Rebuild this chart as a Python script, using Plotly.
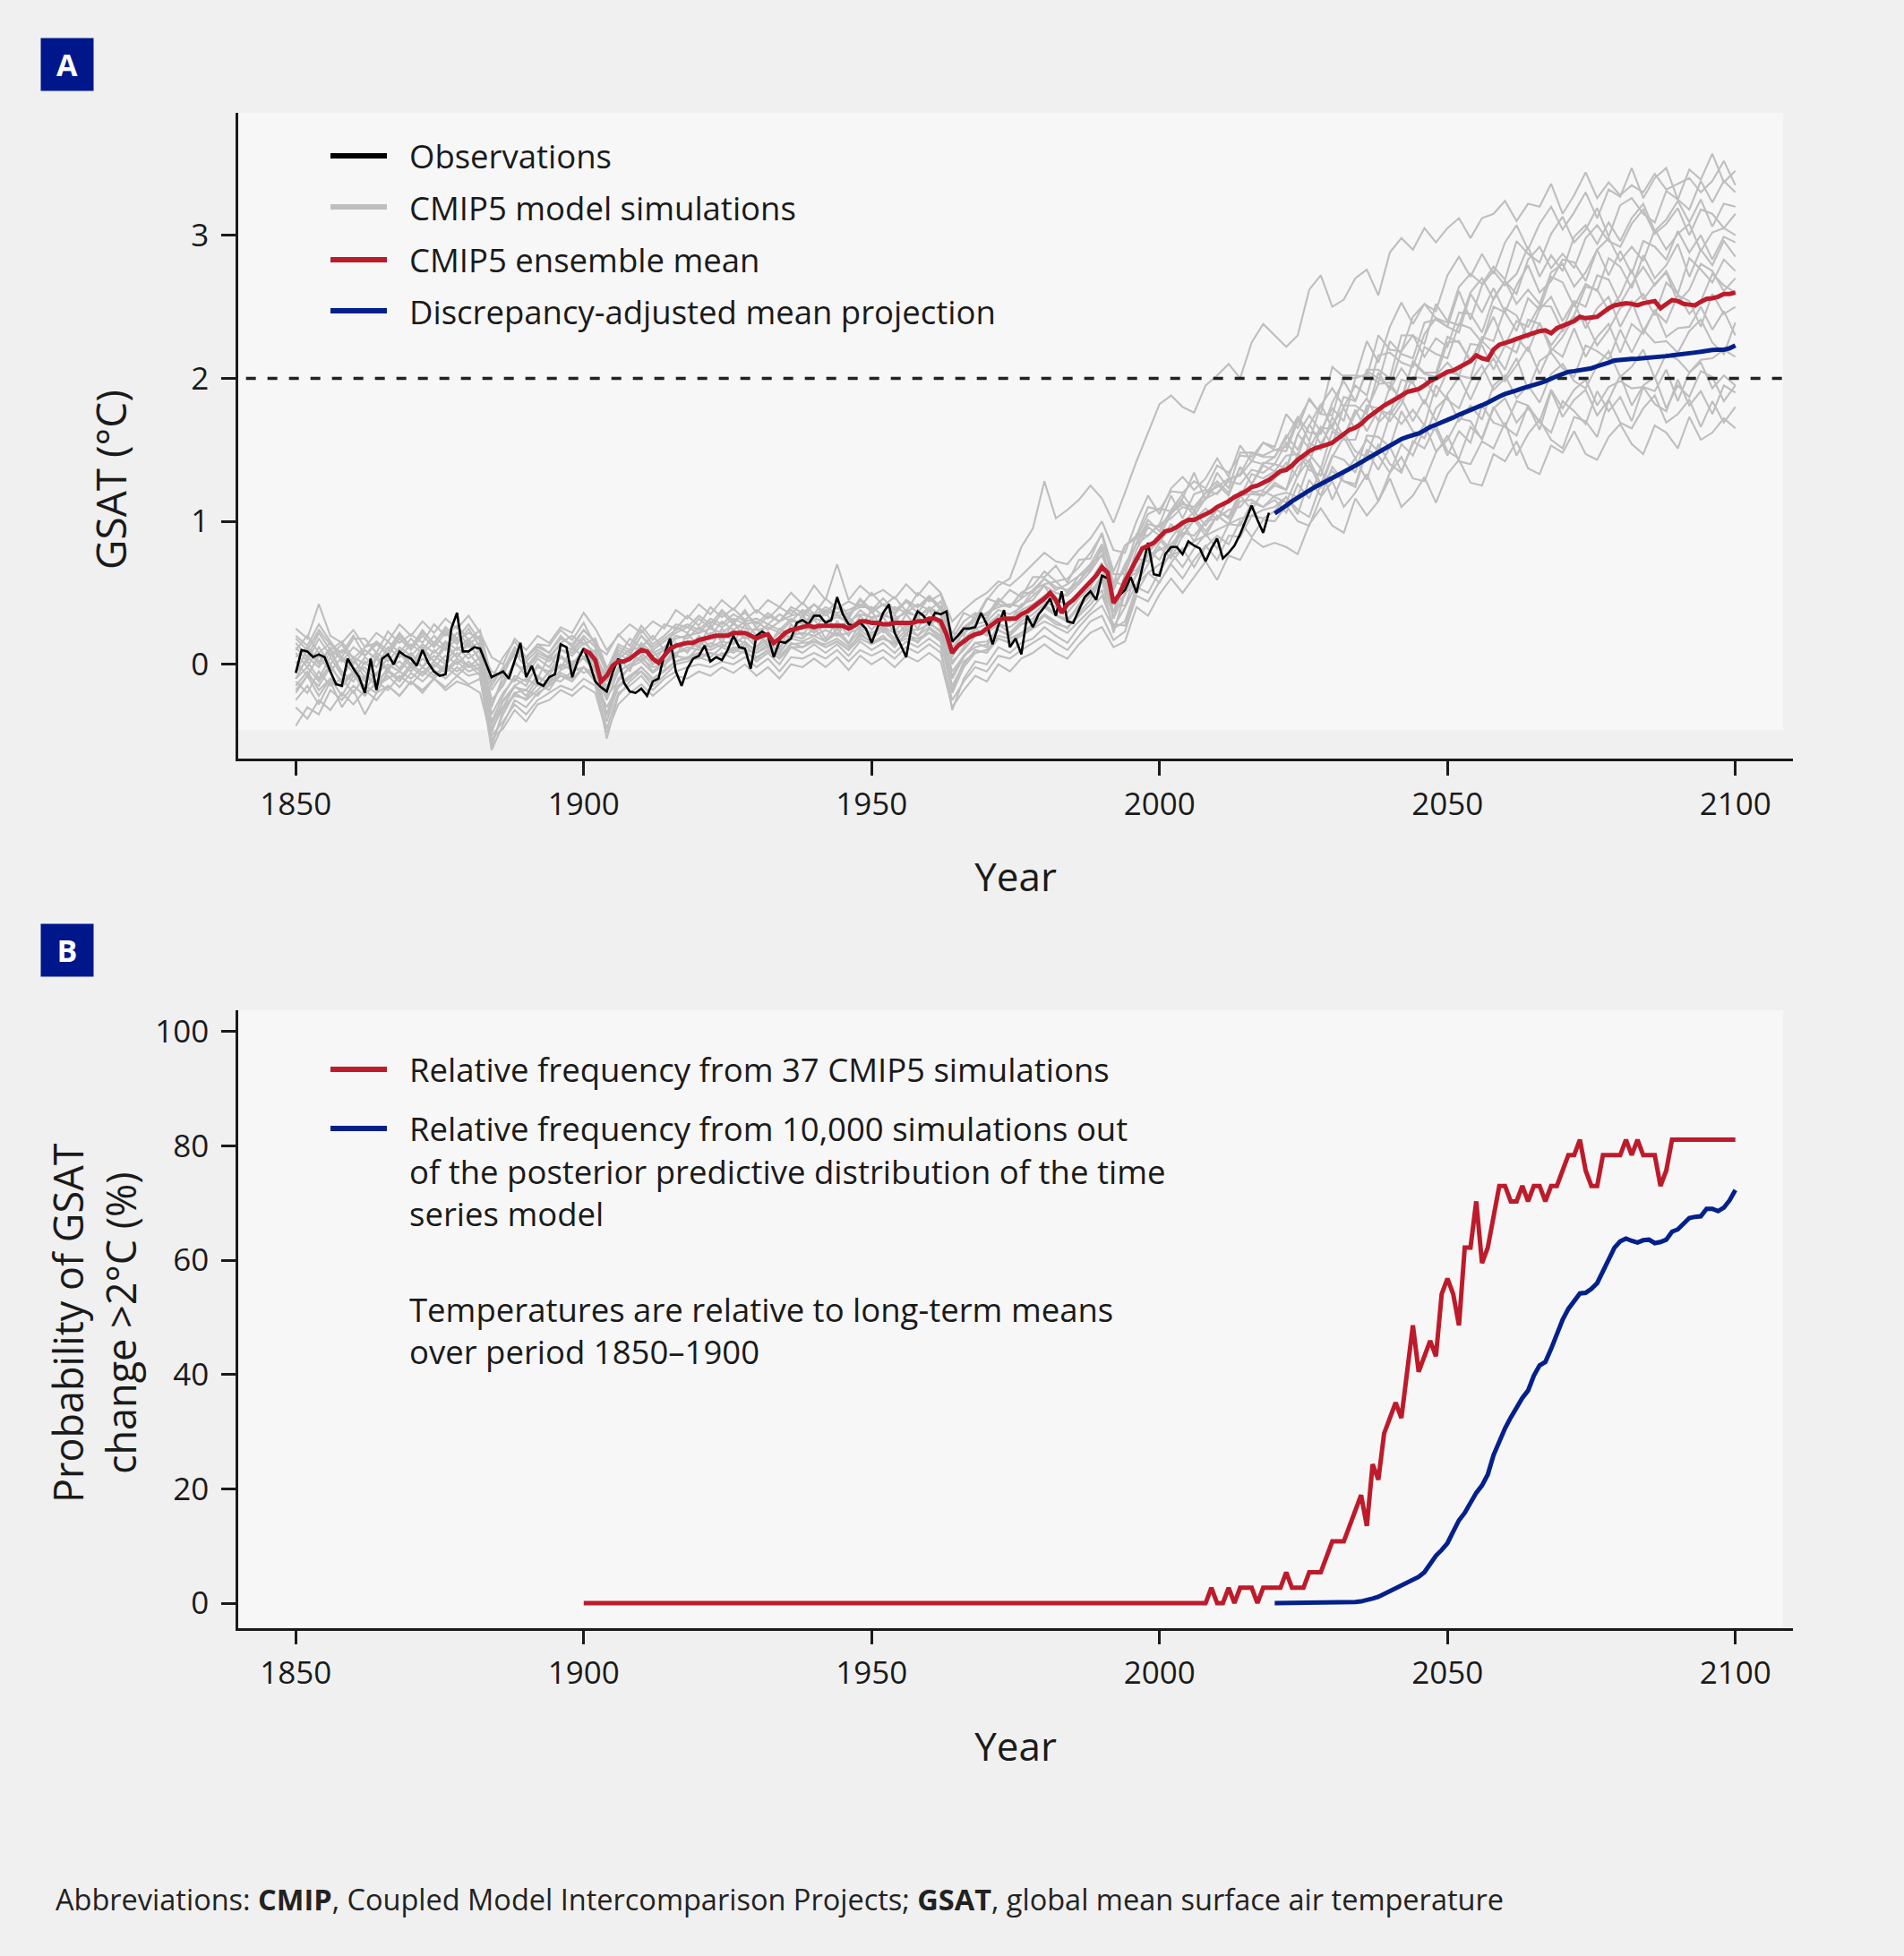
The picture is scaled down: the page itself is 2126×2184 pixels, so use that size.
import plotly.graph_objects as go

# ---------------- data ----------------
YEARS_OBS = list(range(1850, 2020))
OBS = [
    -0.06, 0.10, 0.09, 0.05, 0.07, 0.05, -0.05, -0.14, -0.15, 0.04,
    -0.03, -0.09, -0.20, 0.04, -0.18, 0.04, 0.07, 0.00, 0.09, 0.06,
    0.04, -0.01, 0.10, 0.01, -0.05, -0.08, -0.07, 0.25, 0.36, 0.09,
    0.09, 0.12, 0.11, 0.01, -0.09, -0.07, -0.05, -0.10, 0.03, 0.15,
    -0.09, -0.01, -0.13, -0.15, -0.09, -0.07, 0.14, 0.12, -0.09, 0.03,
    0.11, 0.01, -0.12, -0.16, -0.19, -0.06, 0.04, -0.13, -0.19, -0.20,
    -0.17, -0.22, -0.12, -0.10, 0.07, 0.18, -0.05, -0.15, -0.03, 0.04,
    0.06, 0.13, 0.02, 0.05, 0.03, 0.10, 0.20, 0.12, 0.11, -0.03,
    0.20, 0.23, 0.20, 0.05, 0.16, 0.15, 0.18, 0.29, 0.31, 0.28,
    0.34, 0.34, 0.29, 0.31, 0.47, 0.35, 0.28, 0.27, 0.29, 0.25,
    0.15, 0.26, 0.36, 0.42, 0.22, 0.14, 0.05, 0.28, 0.37, 0.34,
    0.28, 0.36, 0.35, 0.37, 0.16, 0.20, 0.25, 0.25, 0.26, 0.36,
    0.28, 0.14, 0.27, 0.38, 0.12, 0.18, 0.07, 0.34, 0.26, 0.35,
    0.40, 0.46, 0.34, 0.51, 0.30, 0.29, 0.38, 0.47, 0.51, 0.45,
    0.62, 0.60, 0.45, 0.48, 0.52, 0.61, 0.50, 0.67, 0.85, 0.63,
    0.62, 0.77, 0.82, 0.82, 0.77, 0.86, 0.83, 0.81, 0.72, 0.81,
    0.88, 0.74, 0.78, 0.83, 0.91, 1.01, 1.11, 1.01, 0.92, 1.06,
]

YEARS_MEAN = list(range(1900, 2101))
ENS_MEAN = [
    0.10, 0.08, 0.03, -0.12, -0.08, -0.01, 0.02, 0.02, 0.04, 0.07,
    0.10, 0.09, 0.04, 0.01, 0.06, 0.11, 0.13, 0.14, 0.15, 0.15,
    0.17, 0.18, 0.19, 0.20, 0.20, 0.20, 0.22, 0.22, 0.22, 0.20,
    0.18, 0.20, 0.21, 0.15, 0.18, 0.22, 0.24, 0.25, 0.26, 0.27,
    0.26, 0.27, 0.27, 0.27, 0.27, 0.27, 0.25, 0.27, 0.30, 0.30,
    0.29, 0.29, 0.28, 0.28, 0.29, 0.29, 0.29, 0.29, 0.30, 0.30,
    0.32, 0.32, 0.30, 0.21, 0.08, 0.13, 0.16, 0.19, 0.21, 0.22,
    0.25, 0.28, 0.31, 0.32, 0.32, 0.32, 0.35, 0.37, 0.40, 0.43,
    0.46, 0.50, 0.45, 0.36, 0.42, 0.45, 0.49, 0.54, 0.58, 0.62,
    0.68, 0.64, 0.43, 0.49, 0.58, 0.66, 0.73, 0.81, 0.83, 0.85,
    0.89, 0.93, 0.94, 0.96, 0.99, 1.01, 1.01, 1.03, 1.05, 1.07,
    1.10, 1.12, 1.14, 1.17, 1.19, 1.21, 1.24, 1.25, 1.27, 1.29,
    1.32, 1.35, 1.36, 1.39, 1.43, 1.46, 1.49, 1.51, 1.52, 1.535,
    1.55, 1.58, 1.61, 1.64, 1.655, 1.68, 1.72, 1.755, 1.78, 1.81,
    1.83, 1.855, 1.88, 1.905, 1.915, 1.925, 1.95, 1.98, 2.00, 2.02,
    2.045, 2.055, 2.075, 2.095, 2.12, 2.16, 2.14, 2.13, 2.20, 2.235,
    2.245, 2.26, 2.275, 2.29, 2.30, 2.315, 2.33, 2.335, 2.315, 2.35,
    2.365, 2.38, 2.40, 2.43, 2.42, 2.425, 2.43, 2.46, 2.49, 2.51,
    2.52, 2.525, 2.52, 2.51, 2.525, 2.53, 2.54, 2.49, 2.52, 2.547,
    2.54, 2.52, 2.515, 2.51, 2.535, 2.555, 2.56, 2.57, 2.59, 2.59,
    2.60,
]

YEARS_ADJ = list(range(2020, 2101))
ADJ_MEAN = [
    1.055, 1.08, 1.11, 1.14, 1.165, 1.19, 1.22, 1.24, 1.26, 1.28,
    1.30, 1.32, 1.345, 1.367, 1.39, 1.413, 1.44, 1.46, 1.485, 1.51,
    1.535, 1.56, 1.575, 1.59, 1.60, 1.615, 1.635, 1.66, 1.675, 1.69,
    1.705, 1.726, 1.745, 1.76, 1.78, 1.795, 1.812, 1.83, 1.855, 1.872,
    1.89, 1.90, 1.915, 1.93, 1.94, 1.953, 1.965, 1.98, 2.00, 2.015,
    2.03, 2.045, 2.05, 2.055, 2.06, 2.07, 2.085, 2.095, 2.11, 2.125,
    2.13, 2.132, 2.135, 2.137, 2.14, 2.14, 2.145, 2.148, 2.155, 2.16,
    2.167, 2.172, 2.177, 2.18, 2.185, 2.195, 2.198, 2.20, 2.20, 2.21,
    2.23,
]

# CMIP5 model simulations (every second year, 1850-2100)
YEARS_SIM = list(range(1850, 2101, 2))
SIM_01 = [
    0.20, 0.13, 0.28, 0.16, 0.05, 0.18, 0.18, 0.08, 0.23, 0.15,
    0.21, 0.15, 0.28, 0.20, 0.27, 0.17, 0.24, -0.10, 0.05, 0.16,
    0.05, 0.14, 0.13, 0.24, 0.17, 0.29, 0.13, 0.07, 0.21, 0.13,
    0.27, 0.17, 0.28, 0.25, 0.34, 0.27, 0.40, 0.33, 0.39, 0.31,
    0.38, 0.32, 0.40, 0.35, 0.43, 0.35, 0.46, 0.39, 0.44, 0.40,
    0.50, 0.41, 0.47, 0.37, 0.50, 0.44, 0.49, 0.21, 0.36, 0.32,
    0.46, 0.43, 0.52, 0.47, 0.61, 0.61, 0.69, 0.57, 0.73, 0.74,
    0.92, 0.65, 0.83, 0.90, 1.10, 1.08, 1.21, 1.20, 1.28, 1.23,
    1.39, 1.34, 1.46, 1.45, 1.55, 1.52, 1.75, 1.65, 1.86, 1.75,
    2.08, 2.01, 2.00, 2.26, 2.11, 2.36, 2.53, 2.38, 2.52, 2.47,
    2.72, 2.85, 2.71, 2.87, 2.73, 2.95, 3.07, 2.90, 3.08, 3.20,
    3.04, 3.16, 3.30, 3.12, 3.32, 3.27, 3.47, 3.26, 3.40, 3.47,
    3.25, 3.46, 3.39, 3.57, 3.37, 3.45,
]
SIM_02 = [
    -0.05, 0.10, 0.00, 0.12, -0.08, 0.05, -0.10, 0.06, -0.04, 0.10,
    0.00, 0.12, 0.02, 0.15, 0.05, 0.16, 0.02, -0.30, -0.08, -0.12,
    0.02, -0.10, 0.06, -0.03, 0.12, 0.05, 0.10, -0.18, 0.06, -0.05,
    0.15, 0.00, 0.12, 0.05, 0.22, 0.12, 0.28, 0.15, 0.30, 0.18,
    0.26, 0.12, 0.25, 0.18, 0.35, 0.22, 0.38, 0.20, 0.33, 0.25,
    0.38, 0.22, 0.35, 0.20, 0.38, 0.28, 0.40, 0.05, 0.25, 0.30,
    0.45, 0.55, 0.60, 0.82, 0.95, 1.28, 1.02, 1.08, 1.15, 1.25,
    1.16, 0.99, 1.20, 1.42, 1.62, 1.82, 1.88, 1.80, 1.76, 1.95,
    2.02, 2.10, 2.00, 2.25, 2.38, 2.30, 2.22, 2.30, 2.62, 2.72,
    2.50, 2.55, 2.70, 2.76, 2.58, 2.88, 2.98, 2.90, 3.05, 2.95,
    3.05, 3.12, 2.98, 3.12, 3.15, 3.24, 3.10, 3.22, 3.20, 3.36,
    3.15, 3.28, 3.44, 3.26, 3.37, 3.28, 3.35, 3.30, 3.43, 3.32,
    3.36, 3.40, 3.30, 3.38, 3.52, 3.35,
]
SIM_03 = [
    0.15, 0.05, 0.22, 0.10, 0.16, 0.04, 0.12, 0.15, 0.06, 0.18,
    0.10, 0.20, 0.12, 0.22, 0.14, 0.25, 0.12, -0.05, -0.08, 0.10,
    0.02, 0.10, 0.05, 0.15, 0.20, 0.14, 0.18, -0.02, 0.05, 0.18,
    0.12, 0.20, 0.10, 0.26, 0.22, 0.32, 0.25, 0.36, 0.28, 0.38,
    0.25, 0.34, 0.30, 0.38, 0.33, 0.42, 0.34, 0.40, 0.32, 0.45,
    0.36, 0.42, 0.35, 0.44, 0.36, 0.47, 0.38, 0.22, 0.20, 0.35,
    0.32, 0.45, 0.40, 0.50, 0.55, 0.65, 0.58, 0.60, 0.68, 0.78,
    0.91, 0.56, 0.83, 0.88, 1.05, 1.09, 1.07, 1.16, 1.34, 1.15,
    1.34, 1.23, 1.48, 1.48, 1.46, 1.50, 1.49, 1.70, 1.85, 1.75,
    1.74, 2.02, 2.02, 2.01, 2.30, 2.20, 2.19, 2.43, 2.52, 2.42,
    2.39, 2.64, 2.73, 2.66, 2.78, 2.69, 2.96, 2.87, 2.81, 3.01,
    3.13, 2.95, 3.04, 3.19, 2.99, 3.21, 3.26, 3.15, 3.09, 3.31,
    3.25, 3.18, 3.38, 3.23, 3.38, 3.30,
]
SIM_04 = [
    -0.10, 0.05, -0.02, 0.08, -0.05, -0.12, 0.02, -0.08, 0.05, -0.03,
    0.08, -0.02, 0.10, 0.02, 0.12, 0.04, 0.10, -0.35, -0.20, -0.10,
    -0.15, 0.00, -0.08, 0.05, -0.02, 0.12, -0.05, -0.15, -0.04, 0.08,
    0.02, 0.10, -0.02, 0.15, 0.08, 0.20, 0.12, 0.25, 0.15, 0.28,
    0.12, 0.22, 0.10, 0.28, 0.20, 0.32, 0.18, 0.30, 0.20, 0.34,
    0.24, 0.33, 0.22, 0.35, 0.25, 0.38, 0.26, 0.00, 0.12, 0.25,
    0.20, 0.35, 0.30, 0.42, 0.45, 0.55, 0.42, 0.50, 0.58, 0.70,
    0.76, 0.57, 0.66, 0.91, 0.90, 0.98, 1.18, 1.02, 1.19, 1.22,
    1.19, 1.29, 1.33, 1.48, 1.45, 1.45, 1.58, 1.73, 1.62, 1.61,
    1.83, 1.98, 1.84, 2.06, 2.06, 2.00, 2.30, 2.30, 2.24, 2.52,
    2.40, 2.37, 2.60, 2.70, 2.55, 2.68, 2.59, 2.83, 2.92, 2.77,
    2.87, 2.77, 2.98, 3.07, 2.96, 2.92, 3.08, 3.18, 3.01, 3.08,
    3.19, 3.00, 3.18, 3.15, 3.05, 3.15,
]
SIM_05 = [
    0.25, 0.18, 0.42, 0.20, 0.15, 0.24, 0.12, 0.22, 0.16, 0.28,
    0.20, 0.30, 0.22, 0.32, 0.25, 0.34, 0.22, 0.05, 0.00, 0.18,
    0.10, 0.20, 0.15, 0.26, 0.22, 0.36, 0.25, 0.10, 0.20, 0.28,
    0.22, 0.30, 0.25, 0.38, 0.32, 0.42, 0.35, 0.45, 0.38, 0.48,
    0.36, 0.45, 0.40, 0.50, 0.42, 0.55, 0.45, 0.70, 0.45, 0.55,
    0.48, 0.52, 0.46, 0.56, 0.48, 0.58, 0.50, 0.30, 0.38, 0.45,
    0.50, 0.58, 0.55, 0.62, 0.70, 0.78, 0.72, 0.70, 0.80, 0.88,
    1.00, 0.80, 0.78, 1.00, 1.18, 1.05, 1.23, 1.31, 1.22, 1.30,
    1.44, 1.31, 1.53, 1.42, 1.55, 1.50, 1.52, 1.72, 1.56, 1.81,
    1.93, 1.80, 1.95, 1.88, 2.16, 2.18, 2.11, 2.08, 2.31, 2.42,
    2.36, 2.32, 2.59, 2.46, 2.63, 2.46, 2.65, 2.79, 2.60, 2.68,
    2.83, 2.81, 2.68, 2.90, 2.98, 2.82, 2.92, 2.82, 3.04, 2.90,
    3.01, 3.08, 2.89, 3.02, 3.05, 3.00,
]
SIM_06 = [
    -0.20, -0.08, -0.15, -0.02, -0.12, -0.05, -0.18, -0.06, 0.00, -0.05,
    0.05, -0.02, 0.06, 0.00, 0.08, -0.02, 0.05, -0.45, -0.30, -0.15,
    -0.22, -0.10, -0.12, 0.00, -0.04, 0.05, -0.02, -0.35, -0.10, -0.02,
    0.06, -0.05, 0.02, 0.08, 0.12, 0.10, 0.15, 0.12, 0.18, 0.15,
    0.10, 0.16, 0.08, 0.20, 0.18, 0.25, 0.16, 0.25, 0.15, 0.28,
    0.20, 0.26, 0.18, 0.28, 0.20, 0.30, 0.22, -0.10, 0.05, 0.15,
    0.12, 0.28, 0.22, 0.30, 0.35, 0.42, 0.35, 0.30, 0.42, 0.52,
    0.58, 0.42, 0.48, 0.74, 0.72, 0.85, 0.98, 0.89, 1.01, 1.09,
    1.01, 1.16, 1.17, 1.33, 1.30, 1.35, 1.35, 1.61, 1.51, 1.66,
    1.53, 1.81, 1.81, 1.75, 2.04, 1.92, 2.07, 1.96, 2.22, 2.17,
    2.14, 2.38, 2.35, 2.25, 2.50, 2.46, 2.33, 2.56, 2.48, 2.71,
    2.67, 2.50, 2.66, 2.61, 2.84, 2.78, 2.63, 2.86, 2.70, 2.79,
    2.94, 2.71, 2.90, 2.79, 2.96, 2.85,
]
SIM_07 = [
    0.05, 0.12, 0.02, 0.10, 0.04, -0.06, 0.05, -0.02, 0.12, 0.05,
    0.14, 0.08, 0.15, 0.10, 0.18, 0.12, 0.15, -0.25, -0.15, 0.02,
    -0.08, 0.04, -0.02, 0.10, 0.08, 0.18, 0.05, -0.08, 0.08, 0.02,
    0.15, 0.08, 0.12, 0.20, 0.18, 0.26, 0.20, 0.30, 0.24, 0.30,
    0.20, 0.28, 0.24, 0.32, 0.28, 0.36, 0.30, 0.35, 0.28, 0.38,
    0.32, 0.36, 0.30, 0.38, 0.33, 0.40, 0.35, 0.12, 0.22, 0.28,
    0.30, 0.38, 0.35, 0.40, 0.48, 0.55, 0.50, 0.48, 0.56, 0.65,
    0.77, 0.58, 0.55, 0.80, 0.96, 0.90, 1.05, 1.14, 1.04, 1.16,
    1.26, 1.18, 1.38, 1.26, 1.41, 1.40, 1.55, 1.45, 1.68, 1.54,
    1.68, 1.79, 1.64, 1.78, 1.96, 1.97, 1.84, 2.12, 2.04, 2.04,
    2.29, 2.25, 2.13, 2.26, 2.43, 2.23, 2.40, 2.36, 2.51, 2.50,
    2.33, 2.44, 2.64, 2.62, 2.47, 2.58, 2.76, 2.55, 2.66, 2.74,
    2.53, 2.62, 2.80, 2.75, 2.61, 2.70,
]
SIM_08 = [
    -0.15, -0.05, -0.18, -0.10, -0.22, -0.08, -0.15, -0.20, -0.05, -0.12,
    -0.02, -0.08, 0.00, -0.06, 0.02, -0.05, -0.02, -0.55, -0.35, -0.20,
    -0.25, -0.18, -0.10, -0.12, -0.05, -0.02, -0.12, -0.30, -0.15, -0.08,
    -0.02, -0.10, -0.05, 0.02, 0.05, 0.08, 0.05, 0.12, 0.08, 0.14,
    0.05, 0.10, 0.04, 0.15, 0.12, 0.18, 0.12, 0.16, 0.10, 0.22,
    0.15, 0.20, 0.12, 0.22, 0.15, 0.25, 0.18, -0.20, -0.02, 0.08,
    0.10, 0.18, 0.15, 0.22, 0.28, 0.35, 0.30, 0.25, 0.36, 0.45,
    0.60, 0.22, 0.50, 0.56, 0.70, 0.82, 0.74, 0.90, 1.01, 0.90,
    1.04, 0.98, 1.18, 1.19, 1.18, 1.25, 1.22, 1.38, 1.47, 1.37,
    1.63, 1.57, 1.57, 1.81, 1.79, 1.70, 1.82, 2.01, 2.00, 1.87,
    2.05, 2.02, 2.24, 2.23, 2.06, 2.23, 2.18, 2.41, 2.38, 2.23,
    2.34, 2.53, 2.35, 2.49, 2.57, 2.36, 2.51, 2.59, 2.44, 2.67,
    2.59, 2.45, 2.54, 2.73, 2.65, 2.60,
]
SIM_09 = [
    0.10, 0.20, 0.08, 0.15, 0.02, 0.12, 0.06, 0.14, 0.08, 0.20,
    0.12, 0.22, 0.15, 0.24, 0.16, 0.22, 0.18, -0.15, -0.02, 0.06,
    0.05, 0.12, 0.08, 0.18, 0.14, 0.24, 0.15, -0.05, 0.12, 0.08,
    0.20, 0.12, 0.18, 0.24, 0.28, 0.24, 0.32, 0.28, 0.35, 0.30,
    0.32, 0.28, 0.35, 0.30, 0.38, 0.34, 0.40, 0.36, 0.38, 0.42,
    0.38, 0.42, 0.36, 0.45, 0.40, 0.46, 0.40, 0.15, 0.26, 0.32,
    0.36, 0.42, 0.40, 0.46, 0.52, 0.60, 0.52, 0.56, 0.62, 0.70,
    0.84, 0.63, 0.63, 0.85, 1.01, 0.93, 1.08, 1.19, 1.07, 1.20,
    1.28, 1.20, 1.38, 1.26, 1.39, 1.35, 1.46, 1.47, 1.41, 1.65,
    1.65, 1.59, 1.78, 1.63, 1.78, 1.75, 1.99, 1.97, 1.82, 2.02,
    2.11, 2.02, 2.00, 2.26, 2.18, 2.06, 2.29, 2.19, 2.39, 2.19,
    2.29, 2.43, 2.40, 2.23, 2.34, 2.49, 2.54, 2.33, 2.47, 2.39,
    2.58, 2.54, 2.36, 2.59, 2.45, 2.50,
]
SIM_10 = [
    -0.43, -0.30, -0.35, -0.18, -0.25, -0.15, -0.22, -0.12, -0.18, -0.08,
    -0.14, -0.05, -0.10, -0.02, -0.08, 0.00, -0.08, -0.60, -0.42, -0.25,
    -0.30, -0.20, -0.15, -0.08, -0.12, -0.02, -0.10, -0.52, -0.22, -0.12,
    -0.05, -0.15, -0.08, 0.00, 0.02, 0.05, 0.02, 0.08, 0.04, 0.10,
    0.02, 0.08, 0.00, 0.12, 0.08, 0.14, 0.08, 0.14, 0.06, 0.16,
    0.10, 0.15, 0.08, 0.16, 0.12, 0.18, 0.12, -0.32, -0.10, 0.02,
    0.00, 0.12, 0.08, 0.15, 0.18, 0.26, 0.20, 0.15, 0.26, 0.35,
    0.41, 0.25, 0.30, 0.54, 0.50, 0.65, 0.78, 0.68, 0.81, 0.91,
    0.81, 0.98, 0.97, 1.13, 1.10, 1.18, 1.20, 1.17, 1.40, 1.23,
    1.45, 1.59, 1.44, 1.57, 1.49, 1.74, 1.86, 1.70, 1.85, 1.70,
    1.89, 2.01, 1.85, 2.03, 2.14, 1.98, 2.09, 2.22, 2.03, 2.21,
    2.15, 2.35, 2.15, 2.29, 2.38, 2.18, 2.38, 2.31, 2.48, 2.29,
    2.35, 2.36, 2.50, 2.34, 2.47, 2.30,
]
SIM_11 = [
    0.02, -0.08, 0.06, -0.05, 0.05, -0.02, -0.12, 0.04, -0.05, 0.08,
    -0.02, 0.10, 0.02, 0.12, 0.05, 0.14, 0.04, -0.40, -0.22, -0.08,
    -0.12, -0.02, -0.05, 0.06, 0.00, 0.10, 0.00, -0.20, -0.02, 0.05,
    0.08, 0.00, 0.06, 0.12, 0.15, 0.12, 0.22, 0.18, 0.24, 0.18,
    0.20, 0.15, 0.22, 0.18, 0.28, 0.22, 0.28, 0.24, 0.30, 0.26,
    0.32, 0.25, 0.32, 0.26, 0.33, 0.28, 0.32, 0.02, 0.10, 0.20,
    0.22, 0.28, 0.26, 0.32, 0.38, 0.44, 0.40, 0.36, 0.46, 0.54,
    0.69, 0.32, 0.60, 0.64, 0.78, 0.89, 0.80, 0.98, 1.07, 0.97,
    1.08, 1.03, 1.21, 1.21, 1.18, 1.27, 1.22, 1.48, 1.36, 1.32,
    1.54, 1.62, 1.49, 1.45, 1.69, 1.77, 1.68, 1.78, 1.67, 1.95,
    1.85, 1.79, 1.98, 2.09, 1.92, 2.00, 2.14, 1.92, 2.12, 2.18,
    2.07, 2.01, 2.23, 2.19, 2.13, 2.34, 2.18, 2.34, 2.25, 2.26,
    2.18, 2.33, 2.41, 2.25, 2.17, 2.39,
]
SIM_12 = [
    -0.05, 0.02, -0.10, 0.05, -0.08, 0.02, -0.05, -0.15, -0.02, 0.02,
    -0.05, 0.04, -0.02, 0.06, 0.00, 0.08, -0.02, -0.48, -0.25, -0.15,
    -0.10, -0.15, -0.05, -0.02, 0.02, 0.04, -0.05, -0.25, -0.05, 0.00,
    0.04, -0.02, 0.00, 0.08, 0.10, 0.15, 0.12, 0.16, 0.14, 0.20,
    0.12, 0.18, 0.12, 0.20, 0.22, 0.20, 0.24, 0.20, 0.22, 0.25,
    0.22, 0.26, 0.22, 0.25, 0.24, 0.28, 0.24, -0.05, 0.06, 0.15,
    0.16, 0.24, 0.20, 0.28, 0.32, 0.40, 0.34, 0.32, 0.40, 0.50,
    0.62, 0.42, 0.41, 0.64, 0.80, 0.73, 0.88, 0.99, 0.86, 1.00,
    1.08, 1.02, 1.18, 1.08, 1.21, 1.17, 1.13, 1.32, 1.43, 1.26,
    1.46, 1.43, 1.34, 1.60, 1.59, 1.52, 1.77, 1.63, 1.58, 1.79,
    1.87, 1.70, 1.81, 1.71, 1.95, 2.02, 1.86, 1.95, 1.83, 2.03,
    2.10, 1.98, 1.93, 2.09, 2.19, 2.01, 2.08, 2.20, 2.00, 2.17,
    2.13, 2.04, 2.13, 2.14, 2.20, 2.15,
]
SIM_13 = [
    -0.25, -0.15, -0.28, -0.12, -0.30, -0.18, -0.35, -0.20, -0.15, -0.22,
    -0.12, -0.18, -0.10, -0.16, -0.08, -0.14, -0.10, -0.50, -0.40, -0.28,
    -0.35, -0.25, -0.20, -0.15, -0.18, -0.10, -0.15, -0.45, -0.20, -0.15,
    -0.08, -0.18, -0.10, -0.05, -0.02, 0.00, -0.02, 0.02, 0.00, 0.05,
    -0.02, 0.04, -0.05, 0.05, 0.04, 0.08, 0.04, 0.10, 0.02, 0.10,
    0.06, 0.10, 0.04, 0.12, 0.08, 0.14, 0.08, -0.25, -0.12, -0.02,
    -0.05, 0.06, 0.04, 0.10, 0.15, 0.20, 0.15, 0.10, 0.20, 0.30,
    0.34, 0.17, 0.23, 0.48, 0.44, 0.58, 0.70, 0.60, 0.73, 0.83,
    0.73, 0.90, 0.89, 1.04, 1.02, 1.07, 1.17, 1.08, 1.03, 1.26,
    1.35, 1.28, 1.24, 1.49, 1.36, 1.52, 1.35, 1.54, 1.68, 1.49,
    1.57, 1.72, 1.70, 1.57, 1.79, 1.86, 1.69, 1.79, 1.70, 1.92,
    1.79, 1.92, 1.99, 1.81, 1.94, 1.98, 1.93, 1.94, 1.91, 2.06,
    1.84, 2.04, 2.11, 1.93, 2.02, 1.95,
]
SIM_14 = [
    0.08, -0.02, 0.12, 0.00, 0.10, 0.05, 0.00, 0.08, 0.02, 0.12,
    0.06, 0.14, 0.08, 0.16, 0.10, 0.18, 0.08, -0.28, -0.12, 0.00,
    -0.04, 0.06, 0.02, 0.10, 0.06, 0.15, 0.08, -0.12, 0.04, 0.10,
    0.12, 0.06, 0.10, 0.18, 0.20, 0.22, 0.25, 0.22, 0.28, 0.25,
    0.24, 0.26, 0.22, 0.30, 0.30, 0.32, 0.30, 0.33, 0.30, 0.35,
    0.33, 0.34, 0.32, 0.36, 0.34, 0.38, 0.35, 0.10, 0.18, 0.25,
    0.28, 0.34, 0.32, 0.38, 0.42, 0.48, 0.45, 0.42, 0.50, 0.58,
    0.71, 0.36, 0.63, 0.66, 0.78, 0.87, 0.78, 0.94, 1.03, 0.93,
    1.04, 0.98, 1.14, 1.15, 1.10, 1.15, 1.06, 1.26, 1.16, 1.37,
    1.15, 1.33, 1.44, 1.29, 1.54, 1.40, 1.34, 1.56, 1.51, 1.67,
    1.49, 1.44, 1.66, 1.58, 1.80, 1.66, 1.60, 1.81, 1.69, 1.62,
    1.84, 1.77, 1.68, 1.91, 1.77, 1.87, 1.70, 1.94, 1.82, 1.77,
    1.99, 1.81, 1.91, 1.75, 1.95, 1.90,
]
SIM_15 = [
    -0.12, -0.20, -0.05, -0.15, -0.10, -0.20, -0.08, -0.15, -0.10, -0.05,
    -0.10, -0.02, -0.08, 0.00, -0.05, 0.02, -0.05, -0.58, -0.32, -0.20,
    -0.18, -0.22, -0.12, -0.08, -0.10, -0.02, -0.08, -0.40, -0.15, -0.08,
    -0.05, -0.12, -0.04, 0.02, 0.05, 0.06, 0.08, 0.06, 0.12, 0.10,
    0.08, 0.12, 0.06, 0.14, 0.15, 0.16, 0.14, 0.18, 0.12, 0.20,
    0.16, 0.18, 0.15, 0.20, 0.18, 0.22, 0.18, -0.15, 0.00, 0.10,
    0.08, 0.18, 0.15, 0.20, 0.25, 0.30, 0.26, 0.22, 0.30, 0.38,
    0.48, 0.28, 0.27, 0.50, 0.64, 0.57, 0.71, 0.81, 0.68, 0.82,
    0.90, 0.84, 1.00, 0.89, 1.01, 1.00, 1.11, 1.00, 0.97, 1.17,
    1.28, 1.10, 1.20, 1.33, 1.14, 1.34, 1.45, 1.30, 1.28, 1.48,
    1.60, 1.42, 1.40, 1.56, 1.51, 1.69, 1.46, 1.61, 1.71, 1.57,
    1.51, 1.73, 1.70, 1.59, 1.85, 1.69, 1.65, 1.79, 1.88, 1.69,
    1.75, 1.85, 1.66, 1.84, 1.69, 1.80,
]
SIM_16 = [
    -0.30, -0.38, -0.25, -0.32, -0.20, -0.28, -0.18, -0.25, -0.15, -0.22,
    -0.12, -0.20, -0.10, -0.18, -0.12, -0.15, -0.20, -0.52, -0.45, -0.32,
    -0.40, -0.28, -0.25, -0.18, -0.22, -0.15, -0.20, -0.48, -0.28, -0.20,
    -0.14, -0.22, -0.15, -0.08, -0.10, -0.05, -0.08, -0.02, -0.06, 0.00,
    -0.08, -0.02, -0.10, 0.00, -0.02, 0.04, -0.02, 0.05, -0.04, 0.06,
    0.00, 0.05, -0.02, 0.06, 0.02, 0.08, 0.02, -0.30, -0.18, -0.08,
    -0.12, 0.00, -0.05, 0.04, 0.08, 0.14, 0.08, 0.04, 0.14, 0.22,
    0.26, 0.12, 0.16, 0.40, 0.34, 0.49, 0.60, 0.50, 0.61, 0.72,
    0.59, 0.76, 0.73, 0.88, 0.82, 0.85, 0.82, 0.77, 0.98, 1.09,
    0.97, 0.92, 1.16, 1.04, 1.14, 1.30, 1.10, 1.18, 1.31, 1.13,
    1.33, 1.43, 1.27, 1.25, 1.47, 1.42, 1.56, 1.37, 1.33, 1.53,
    1.48, 1.63, 1.47, 1.43, 1.59, 1.68, 1.54, 1.47, 1.67, 1.62,
    1.51, 1.73, 1.57, 1.62, 1.72, 1.65,
]
SIM_17 = [
    0.12, 0.02, 0.18, 0.06, 0.14, 0.00, 0.10, 0.04, 0.16, 0.08,
    0.18, 0.10, 0.20, 0.12, 0.22, 0.14, 0.20, -0.18, -0.06, 0.08,
    -0.02, 0.08, 0.04, 0.14, 0.10, 0.20, 0.12, -0.06, 0.10, 0.06,
    0.20, 0.10, 0.16, 0.22, 0.26, 0.22, 0.30, 0.26, 0.32, 0.28,
    0.30, 0.24, 0.30, 0.34, 0.36, 0.32, 0.38, 0.34, 0.36, 0.40,
    0.40, 0.34, 0.40, 0.36, 0.42, 0.38, 0.44, 0.16, 0.26, 0.30,
    0.36, 0.40, 0.42, 0.40, 0.52, 0.56, 0.58, 0.50, 0.62, 0.66,
    0.82, 0.52, 0.70, 0.84, 0.98, 0.96, 1.06, 1.12, 1.10, 1.20,
    1.24, 1.30, 1.32, 1.42, 1.40, 1.45, 1.60, 1.50, 1.67, 1.82,
    1.65, 1.87, 1.84, 2.05, 2.00, 1.94, 2.19, 2.30, 2.15, 2.28,
    2.22, 2.46, 2.45, 2.32, 2.56, 2.68, 2.52, 2.62, 2.52, 2.74,
    2.80, 2.64, 2.74, 2.90, 2.72, 2.89, 2.73, 2.96, 2.92, 2.83,
    3.03, 2.88, 3.00, 2.83, 2.99, 2.95,
]
SIM_18 = [
    -0.10, -0.02, -0.12, 0.00, -0.14, -0.06, -0.02, -0.12, -0.04, -0.10,
    0.00, -0.06, 0.02, -0.04, 0.04, -0.02, 0.00, -0.42, -0.26, -0.16,
    -0.18, -0.08, -0.14, -0.04, 0.00, -0.06, -0.02, -0.22, -0.12, -0.02,
    0.02, -0.06, 0.00, 0.06, 0.04, 0.12, 0.10, 0.14, 0.10, 0.16,
    0.08, 0.14, 0.08, 0.18, 0.16, 0.20, 0.16, 0.22, 0.14, 0.24,
    0.18, 0.24, 0.16, 0.24, 0.20, 0.26, 0.20, -0.08, 0.06, 0.12,
    0.14, 0.24, 0.20, 0.28, 0.30, 0.40, 0.34, 0.30, 0.40, 0.48,
    0.62, 0.32, 0.50, 0.62, 0.76, 0.80, 0.84, 0.92, 0.90, 1.00,
    1.02, 1.08, 1.10, 1.20, 1.22, 1.30, 1.41, 1.31, 1.55, 1.50,
    1.73, 1.59, 1.75, 1.86, 1.70, 1.94, 1.86, 2.11, 2.03, 2.01,
    2.25, 2.26, 2.11, 2.29, 2.26, 2.49, 2.44, 2.28, 2.48, 2.57,
    2.40, 2.54, 2.50, 2.72, 2.69, 2.52, 2.66, 2.78, 2.65, 2.75,
    2.59, 2.84, 2.76, 2.67, 2.83, 2.75,
]
SIM_19 = [
    0.18, 0.10, 0.24, 0.14, 0.08, 0.20, 0.06, 0.16, 0.10, 0.22,
    0.12, 0.24, 0.14, 0.26, 0.18, 0.28, 0.16, -0.12, -0.04, 0.12,
    0.04, 0.14, 0.08, 0.20, 0.12, 0.24, 0.16, -0.04, 0.14, 0.10,
    0.24, 0.14, 0.20, 0.28, 0.26, 0.34, 0.28, 0.38, 0.30, 0.36,
    0.28, 0.36, 0.30, 0.40, 0.36, 0.42, 0.36, 0.44, 0.34, 0.46,
    0.38, 0.46, 0.38, 0.44, 0.40, 0.48, 0.40, 0.18, 0.30, 0.36,
    0.34, 0.46, 0.40, 0.50, 0.50, 0.60, 0.54, 0.52, 0.58, 0.68,
    0.80, 0.54, 0.68, 0.84, 0.90, 0.98, 1.02, 1.10, 1.08, 1.16,
    1.20, 1.28, 1.26, 1.36, 1.34, 1.40, 1.37, 1.61, 1.74, 1.63,
    1.79, 1.70, 2.00, 2.03, 1.97, 2.26, 2.17, 2.14, 2.39, 2.41,
    2.36, 2.61, 2.41, 2.65, 2.75, 2.65, 2.73, 2.92, 2.71, 2.86,
    2.75, 2.99, 3.07, 2.94, 3.09, 2.96, 3.12, 3.22, 3.03, 3.11,
    3.24, 3.09, 3.25, 3.06, 3.22, 3.20,
]
SIM_20 = [
    -0.18, -0.08, -0.22, -0.10, -0.16, -0.06, -0.20, -0.14, -0.08, -0.16,
    -0.06, -0.12, -0.04, -0.10, -0.02, -0.08, -0.06, -0.46, -0.30, -0.22,
    -0.24, -0.14, -0.18, -0.06, -0.10, -0.02, -0.12, -0.36, -0.16, -0.10,
    -0.02, -0.10, -0.04, 0.02, 0.04, 0.04, 0.08, 0.06, 0.10, 0.08,
    0.04, 0.10, 0.04, 0.12, 0.12, 0.16, 0.12, 0.16, 0.10, 0.18,
    0.14, 0.18, 0.14, 0.18, 0.16, 0.22, 0.16, -0.18, 0.02, 0.08,
    0.10, 0.20, 0.18, 0.22, 0.26, 0.34, 0.28, 0.26, 0.34, 0.42,
    0.52, 0.26, 0.40, 0.56, 0.64, 0.70, 0.76, 0.80, 0.86, 0.90,
    0.94, 0.98, 1.02, 1.04, 1.08, 1.10, 1.17, 1.05, 1.29, 1.18,
    1.38, 1.28, 1.26, 1.50, 1.46, 1.34, 1.54, 1.46, 1.65, 1.64,
    1.46, 1.63, 1.55, 1.81, 1.69, 1.66, 1.84, 1.81, 1.64, 1.91,
    1.73, 1.85, 1.92, 1.74, 1.85, 2.02, 1.81, 1.95, 2.01, 1.79,
    1.95, 1.87, 2.05, 2.01, 1.84, 1.95,
]
SIMS = [SIM_01, SIM_02, SIM_03, SIM_04, SIM_05, SIM_06, SIM_07, SIM_08, SIM_09, SIM_10,
        SIM_11, SIM_12, SIM_13, SIM_14, SIM_15, SIM_16, SIM_17, SIM_18, SIM_19, SIM_20]

THRESHOLD = 2.0

# Panel B: probability of GSAT change > 2 degC (%)
YEARS_PROB_CMIP = list(range(1900, 2101))
PROB_CMIP = [
    0, 0, 0, 0, 0, 0, 0, 0, 0, 0, 0, 0, 0, 0, 0, 0, 0, 0, 0, 0,
    0, 0, 0, 0, 0, 0, 0, 0, 0, 0, 0, 0, 0, 0, 0, 0, 0, 0, 0, 0,
    0, 0, 0, 0, 0, 0, 0, 0, 0, 0, 0, 0, 0, 0, 0, 0, 0, 0, 0, 0,
    0, 0, 0, 0, 0, 0, 0, 0, 0, 0, 0, 0, 0, 0, 0, 0, 0, 0, 0, 0,
    0, 0, 0, 0, 0, 0, 0, 0, 0, 0, 0, 0, 0, 0, 0, 0, 0, 0, 0, 0,
    0, 0, 0, 0, 0, 0, 0, 0, 0,
    2.7, 0, 0, 2.7, 0, 2.7, 2.7, 2.7, 0, 2.7,
    2.7, 2.7, 2.7, 5.4, 2.7, 2.7, 2.7, 5.4, 5.4, 5.4,
    8.1, 10.8, 10.8, 10.8, 13.5, 16.2, 18.9, 13.5, 24.3, 21.6,
    29.7, 32.4, 35.1, 32.4, 40.5, 48.6, 40.5, 43.2, 45.9, 43.2,
    54.1, 56.8, 54.1, 48.6, 62.2, 62.2, 70.3, 59.5, 62.2, 67.6,
    73.0, 73.0, 70.3, 70.3, 73.0, 70.3, 73.0, 73.0, 70.3, 73.0,
    73.0, 75.7, 78.4, 78.4, 81.1, 75.7, 73.0, 73.0, 78.4, 78.4,
    78.4, 78.4, 81.1, 78.4, 81.1, 78.4, 78.4, 78.4, 73.0, 75.7,
    81.1, 81.1, 81.1, 81.1, 81.1, 81.1, 81.1, 81.1, 81.1, 81.1, 81.1, 81.1,
]
YEARS_PROB_TS = list(range(2020, 2101))
PROB_TS = [
    0, 0, 0, 0, 0, 0, 0, 0, 0, 0,
    0.03, 0.05, 0.08, 0.12, 0.18, 0.3, 0.5, 0.8, 1.1, 1.6,
    2.1, 2.6, 2.95, 3.4, 4.1, 4.6, 5.4, 6.8, 8.3, 9.3,
    10.5, 12.5, 14.5, 15.8, 17.5, 19.3, 20.6, 22.5, 25.9, 28.5,
    30.6, 32.5, 34.3, 35.9, 37.2, 39.8, 41.6, 42.2, 44.5, 47.2,
    49.6, 51.5, 53.0, 54.2, 54.3, 55.0, 56.0, 58.2, 60.4, 62.2,
    63.3, 63.8, 63.4, 63.1, 63.5, 63.6, 63.0, 63.2, 63.6, 65.0,
    65.4, 66.5, 67.4, 67.6, 67.7, 69.0, 69.0, 68.6, 69.2, 70.5,
    72.3,
]

X_TICKS = [1850, 1900, 1950, 2000, 2050, 2100]
Y_TICKS_A = [0, 1, 2, 3]
Y_TICKS_B = [0, 20, 40, 60, 80, 100]

LEGEND_A = ["Observations", "CMIP5 model simulations", "CMIP5 ensemble mean",
            "Discrepancy-adjusted mean projection"]
LEGEND_B = ["Relative frequency from 37 CMIP5 simulations",
            "Relative frequency from 10,000 simulations out<br>of the posterior predictive "
            "distribution of the time<br>series model"]

# ---------------- style ----------------
FONT = "'Open Sans', Lato, sans-serif"
INK = "#1a1a1a"
PAGE = "#f0f0f0"
PANEL = "#f7f7f7"
GRAY = "#bebebe"
BLACK = "#000000"
RED = "#bd1b2b"
BLUE = "#03208c"
BOX = "#00178c"

W, H = 2126, 2184
LEG_FONT = 36.5
# legend key placement (pixels from top-left of the page)
KEY_X0, KEY_X1 = 369, 432
KEY_ROWS_A = [174, 231, 290, 347]
KEY_ROWS_B = [1194, 1260]

fig = go.Figure()

for s in SIMS:
    fig.add_trace(go.Scatter(x=YEARS_SIM, y=s, mode="lines",
                             line=dict(color=GRAY, width=2.1), showlegend=False,
                             hoverinfo="skip", xaxis="x", yaxis="y"))
fig.add_trace(go.Scatter(x=YEARS_OBS, y=OBS, mode="lines", name=LEGEND_A[0],
                         line=dict(color=BLACK, width=2.6), showlegend=False,
                         xaxis="x", yaxis="y"))
fig.add_trace(go.Scatter(x=YEARS_MEAN, y=ENS_MEAN, mode="lines", name=LEGEND_A[2],
                         line=dict(color=RED, width=5), showlegend=False,
                         xaxis="x", yaxis="y"))
fig.add_trace(go.Scatter(x=YEARS_ADJ, y=ADJ_MEAN, mode="lines", name=LEGEND_A[3],
                         line=dict(color=BLUE, width=5), showlegend=False,
                         xaxis="x", yaxis="y"))
fig.add_trace(go.Scatter(x=YEARS_PROB_CMIP, y=PROB_CMIP, mode="lines", name=LEGEND_B[0],
                         line=dict(color=RED, width=5), showlegend=False,
                         xaxis="x2", yaxis="y2"))
fig.add_trace(go.Scatter(x=YEARS_PROB_TS, y=PROB_TS, mode="lines", name=LEGEND_B[1],
                         line=dict(color=BLUE, width=5), showlegend=False,
                         xaxis="x2", yaxis="y2"))

# legend entries (text from the legend, long keys drawn as shapes below)
for name, col in zip(LEGEND_A, [BLACK, GRAY, RED, BLUE]):
    fig.add_trace(go.Scatter(x=[None], y=[None], mode="lines", name=name,
                             line=dict(color=col, width=0), legendgroup=name,
                             legend="legend", xaxis="x", yaxis="y"))
for name, col in zip(LEGEND_B, [RED, BLUE]):
    fig.add_trace(go.Scatter(x=[None], y=[None], mode="lines", name=name,
                             line=dict(color=col, width=0), legendgroup=name,
                             legend="legend2", xaxis="x2", yaxis="y2"))

axis_common = dict(
    showgrid=False, zeroline=False, showline=True, linecolor=INK, linewidth=2.5,
    ticks="outside", ticklen=16, tickwidth=2.5, tickcolor=INK,
    tickfont=dict(family=FONT, size=35, color=INK),
)
X_DOMAIN = [266 / W, 2002 / W]
X_RANGE = [1840, 2110]
TITLE_FONT = dict(family=FONT, size=44, color=INK)

fig.update_layout(
    width=W, height=H,
    margin=dict(l=0, r=0, t=0, b=0),
    paper_bgcolor=PAGE, plot_bgcolor=PAGE,
    font=dict(family=FONT, color=INK),
    xaxis=dict(axis_common, domain=X_DOMAIN, range=X_RANGE, tickvals=X_TICKS,
               anchor="y", ticklabelstandoff=2,
               title=dict(text="Year", font=TITLE_FONT, standoff=46)),
    yaxis=dict(axis_common, domain=[1 - 847 / H, 1 - 126 / H], range=[-0.659, 3.856],
               tickvals=Y_TICKS_A, anchor="x", ticklabelstandoff=7),
    xaxis2=dict(axis_common, domain=X_DOMAIN, range=X_RANGE, tickvals=X_TICKS,
                anchor="y2", ticklabelstandoff=2,
                title=dict(text="Year", font=TITLE_FONT, standoff=46)),
    yaxis2=dict(axis_common, domain=[1 - 1817.5 / H, 1 - 1128 / H], range=[-4.31, 103.75],
                tickvals=Y_TICKS_B, anchor="x2", ticklabelstandoff=7),
    legend=dict(x=417 / W, y=1 - 143.8 / H, xanchor="left", yanchor="top",
                bgcolor="rgba(0,0,0,0)", traceorder="grouped", tracegroupgap=7.3,
                font=dict(family=FONT, size=LEG_FONT, color=INK)),
    legend2=dict(x=417 / W, y=1 - 1163.8 / H, xanchor="left", yanchor="top",
                 bgcolor="rgba(0,0,0,0)", traceorder="grouped", tracegroupgap=15.5,
                 valign="top", font=dict(family=FONT, size=LEG_FONT, color=INK)),
    showlegend=True,
    hovermode=False,
)

# panel backgrounds
fig.add_shape(type="rect", xref="x domain", yref="y domain", x0=0, x1=0.9937,
              y0=32 / 721, y1=1, fillcolor=PANEL, line=dict(width=0), layer="below")
fig.add_shape(type="rect", xref="x2 domain", yref="y2 domain", x0=0, x1=0.9937,
              y0=0, y1=1, fillcolor=PANEL, line=dict(width=0), layer="below")
# 2 degC threshold
fig.add_shape(type="line", xref="x domain", yref="y", x0=0.005, x1=0.9937,
              y0=THRESHOLD, y1=THRESHOLD,
              line=dict(color="#222222", width=3.5, dash="11px,13px"), layer="above")
# legend keys
for yy, col in zip(KEY_ROWS_A + KEY_ROWS_B, [BLACK, GRAY, RED, BLUE, RED, BLUE]):
    fig.add_shape(type="line", xref="paper", yref="paper",
                  x0=KEY_X0 / W, x1=KEY_X1 / W, y0=1 - yy / H, y1=1 - yy / H,
                  line=dict(color=col, width=6), layer="above")

annotations = [
    dict(text="<b>A</b>", x=45 / W, y=1 - 42 / H, xref="paper", yref="paper",
         xanchor="left", yanchor="top", showarrow=False, width=58, height=58,
         bgcolor=BOX, borderpad=0, font=dict(family=FONT, size=34, color="white")),
    dict(text="<b>B</b>", x=45 / W, y=1 - 1031 / H, xref="paper", yref="paper",
         xanchor="left", yanchor="top", showarrow=False, width=58, height=58,
         bgcolor=BOX, borderpad=0, font=dict(family=FONT, size=34, color="white")),
    dict(text="GSAT (°C)", x=123 / W, y=1 - 536 / H, xref="paper", yref="paper",
         xanchor="center", yanchor="middle", textangle=-90, showarrow=False,
         font=dict(family=FONT, size=46, color=INK)),
    dict(text="Probability of GSAT<br>change >2°C (%)", x=105 / W, y=1 - 1477 / H,
         xref="paper", yref="paper", xanchor="center", yanchor="middle", textangle=-90,
         showarrow=False, font=dict(family=FONT, size=45, color=INK)),
    dict(text="Temperatures are relative to long-term means<br>over period 1850–1900",
         x=455 / W, y=1 - 1485 / H, xref="paper", yref="paper", xanchor="left",
         yanchor="middle", align="left", showarrow=False,
         font=dict(family=FONT, size=LEG_FONT, color=INK)),
    dict(text="Abbreviations: <b>CMIP</b>, Coupled Model Intercomparison Projects; "
              "<b>GSAT</b>, global mean surface air temperature",
         x=60 / W, y=1 - 2120 / H, xref="paper", yref="paper", xanchor="left",
         yanchor="middle", align="left", showarrow=False,
         font=dict(family=FONT, size=32.5, color="#222222")),
]
fig.update_layout(annotations=annotations)

fig.write_html("out.html", config={"displayModeBar": False},
               post_script="document.body.style.margin='0px';")
